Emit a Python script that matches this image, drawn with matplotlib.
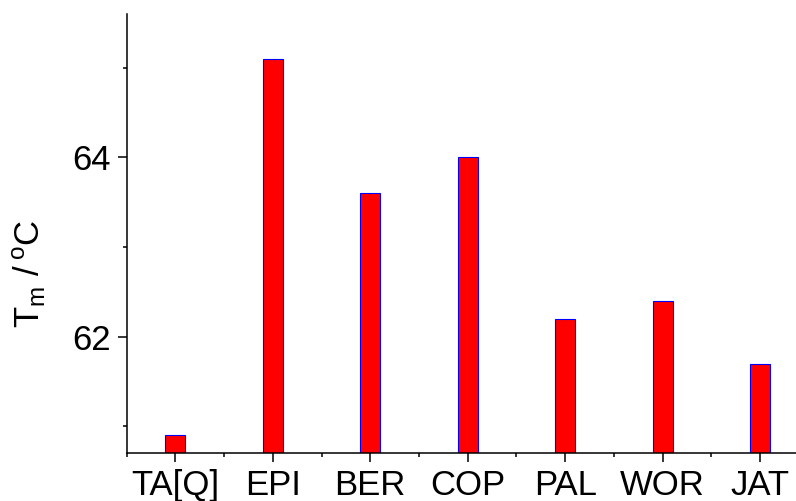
import matplotlib
matplotlib.use("Agg")
import matplotlib.pyplot as plt
from matplotlib.ticker import MultipleLocator, FixedLocator

categories = ["TA[Q]", "EPI", "BER", "COP", "PAL", "WOR", "JAT"]
tm_values = [60.9, 65.1, 63.6, 64.0, 62.2, 62.4, 61.7]

plt.rcParams['font.family'] = ['Liberation Sans', 'DejaVu Sans']
plt.rcParams['mathtext.fontset'] = 'custom'
plt.rcParams['mathtext.rm'] = 'Liberation Sans'

fig = plt.figure(figsize=(7.96, 5.01), dpi=100)
ax = fig.add_axes([126.7/796, 47.7/501, (808.7-126.7)/796, (453.3-14)/501])

x = list(range(len(categories)))
ax.bar(x, tm_values, width=0.205, color='#ff0000', edgecolor='#0000ff', linewidth=0.8)

ax.set_xlim(-0.5, len(categories) - 0.5)
ax.set_ylim(60.7, 65.6)
ax.set_xticks(x)
ax.set_xticklabels(categories)
ax.xaxis.set_minor_locator(FixedLocator([i - 0.5 for i in range(len(categories) + 1)]))
ax.yaxis.set_major_locator(MultipleLocator(2))
ax.yaxis.set_minor_locator(MultipleLocator(1))

for s in ['top', 'right']:
    ax.spines[s].set_visible(False)
for s in ['left', 'bottom']:
    ax.spines[s].set_linewidth(1.1)

ax.tick_params(axis='both', which='major', direction='out', length=6.3, width=1.1,
               labelsize=25, pad=5, colors='black')
ax.tick_params(axis='both', which='minor', direction='out', length=3.2, width=1.1)

fig.text(29/796, 1 - 274/501, r'T$_\mathregular{m}$ /$\,^\mathregular{o}$C', rotation=90,
         ha='center', va='center', fontsize=25)

fig.savefig("out.png", dpi=100)
